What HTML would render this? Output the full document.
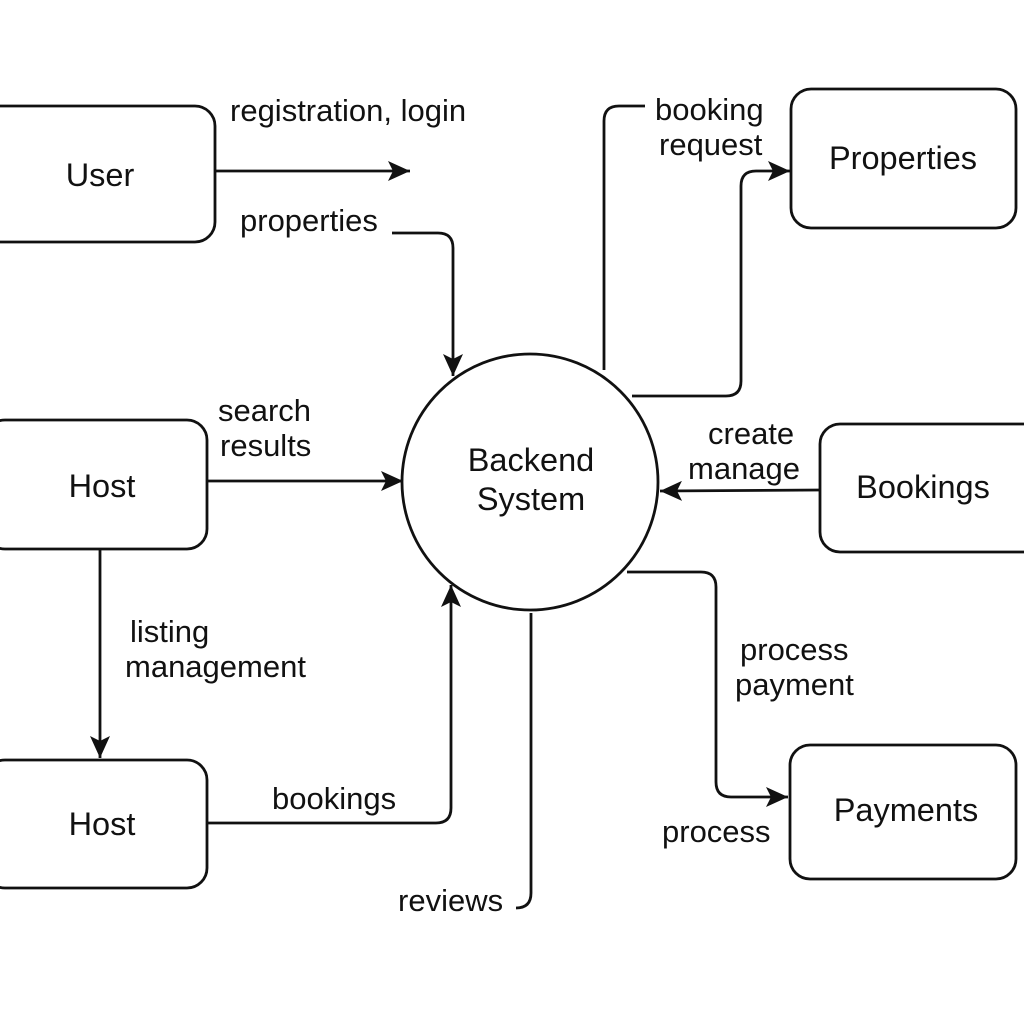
<!DOCTYPE html>
<html><head><meta charset="utf-8"><style>
html,body{margin:0;padding:0;background:#fff;}
svg{display:block;}
text{font-family:"Liberation Sans",Arial,sans-serif;font-size:31px;fill:#111;}
.b{font-size:32.5px;}
</style></head><body>
<svg width="1024" height="1024" viewBox="0 0 1024 1024" xmlns="http://www.w3.org/2000/svg">
<defs>
<marker id="m" viewBox="0 0 22 20" refX="22" refY="10" markerWidth="22" markerHeight="20" orient="auto" markerUnits="userSpaceOnUse">
<path d="M0,0 L22,10 L0,20 L5,10 Z" fill="#111"/>
</marker>
</defs>
<g fill="none" stroke="#111" stroke-width="2.8">
<rect x="-20" y="106" width="235" height="136" rx="20"/>
<rect x="-15" y="420" width="222" height="129" rx="20"/>
<rect x="-15" y="760" width="222" height="128" rx="20"/>
<rect x="791" y="89" width="225" height="139" rx="20"/>
<rect x="820" y="424" width="224" height="128" rx="20"/>
<rect x="790" y="745" width="226" height="134" rx="20"/>
<circle cx="530" cy="482" r="128"/>
<path d="M215,171 L410,171" marker-end="url(#m)"/>
<path d="M392,233 L438,233 Q453,233 453,248 L453,376" marker-end="url(#m)"/>
<path d="M207,481 L403,481" marker-end="url(#m)"/>
<path d="M100,549 L100,758" marker-end="url(#m)"/>
<path d="M207,823 L436,823 Q451,823 451,808 L451,585" marker-end="url(#m)"/>
<path d="M531,613 L531,893 Q531,908 516,908"/>
<path d="M604,370 L604,121 Q604,106 619,106 L645,106"/>
<path d="M632,396 L726,396 Q741,396 741,381 L741,186 Q741,171 756,171 L790,171" marker-end="url(#m)"/>
<path d="M820,490 L660,491" marker-end="url(#m)"/>
<path d="M627,572 L701,572 Q716,572 716,587 L716,782 Q716,797 731,797 L788,797" marker-end="url(#m)"/>
</g>
<g>
<text class="b" x="100" y="186" text-anchor="middle">User</text>
<text class="b" x="102" y="497" text-anchor="middle">Host</text>
<text class="b" x="102" y="835" text-anchor="middle">Host</text>
<text class="b" x="903" y="169" text-anchor="middle">Properties</text>
<text class="b" x="923" y="498" text-anchor="middle">Bookings</text>
<text class="b" x="906" y="821" text-anchor="middle">Payments</text>
<text class="b" x="531" y="471" text-anchor="middle">Backend</text>
<text class="b" x="531" y="510" text-anchor="middle">System</text>
<text x="230" y="121">registration, login</text>
<text x="240" y="231">properties</text>
<text x="218" y="421">search</text>
<text x="220" y="456">results</text>
<text x="130" y="642">listing</text>
<text x="125" y="677">management</text>
<text x="272" y="809">bookings</text>
<text x="398" y="911">reviews</text>
<text x="655" y="120">booking</text>
<text x="659" y="155">request</text>
<text x="708" y="444">create</text>
<text x="688" y="479">manage</text>
<text x="740" y="660">process</text>
<text x="735" y="695">payment</text>
<text x="662" y="842">process</text>
</g>
</svg>
</body></html>
